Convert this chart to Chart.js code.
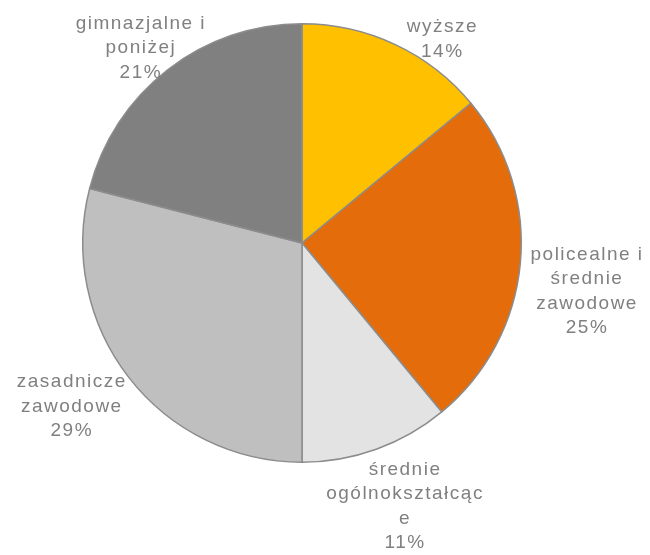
<!DOCTYPE html>
<html lang="pl">
<head>
    <meta charset="UTF-8">
    <title>Wykształcenie</title>
    <script src="https://cdn.jsdelivr.net/npm/chart.js@4.4.1/dist/chart.umd.min.js"></script>
    <style>
        html, body { margin: 0; padding: 0; background: #fff; }
        #wrap { width: 650px; height: 555px; }
    </style>
</head>
<body>
    <div id="wrap"><canvas id="pieChart" width="650" height="555"></canvas></div>

    <script>
        // Categories (label lines as shown on the chart) and shares in %
        const categories = [
            ['wyższe'],
            ['policealne i', 'średnie', 'zawodowe'],
            ['średnie', 'ogólnokształcąc', 'e'],
            ['zasadnicze', 'zawodowe'],
            ['gimnazjalne i', 'poniżej']
        ];
        const shares = [14, 25, 11, 29, 21];

        const sliceColors = ['#FFC000', '#E46C0A', '#E3E3E3', '#BFBFBF', '#808080'];
        // label block centre, relative to pie centre, in units of radius
        const labelOffsets = [[0.64, -0.93], [1.30, 0.22], [0.47, 1.20], [-1.05, 0.745], [-0.735, -0.89]];

        // draws the Excel-style data labels (name + percent)
        const outsideLabels = {
            id: 'outsideLabels',
            afterDatasetsDraw(chart) {
                const ctx = chart.ctx;
                const arcs = chart.getDatasetMeta(0).data;
                ctx.save();
                ctx.font = '19px "Liberation Sans", Arial, sans-serif';
                ctx.letterSpacing = '1.5px';
                ctx.fillStyle = '#808080';
                ctx.textAlign = 'center';
                ctx.textBaseline = 'middle';
                const lineH = 24.5;
                arcs.forEach((arc, i) => {
                    const lines = categories[i].concat([shares[i] + '%']);
                    const cx = arc.x + labelOffsets[i][0] * arc.outerRadius;
                    const cy = arc.y + labelOffsets[i][1] * arc.outerRadius;
                    const top = cy - (lines.length - 1) * lineH / 2;
                    lines.forEach((t, k) => ctx.fillText(t, cx, top + k * lineH));
                });
                ctx.restore();
            }
        };

        new Chart(document.getElementById('pieChart'), {
            type: 'pie',
            data: {
                labels: categories,
                datasets: [{
                    data: shares,
                    backgroundColor: sliceColors,
                    borderColor: '#8c8c8c',
                    borderWidth: 1.5
                }]
            },
            options: {
                responsive: false,
                animation: false,
                layout: { padding: { left: 82, right: 128, top: 22, bottom: 91 } },
                plugins: {
                    legend: { display: false },
                    tooltip: { enabled: false }
                }
            },
            plugins: [outsideLabels]
        });
    </script>
</body>
</html>
